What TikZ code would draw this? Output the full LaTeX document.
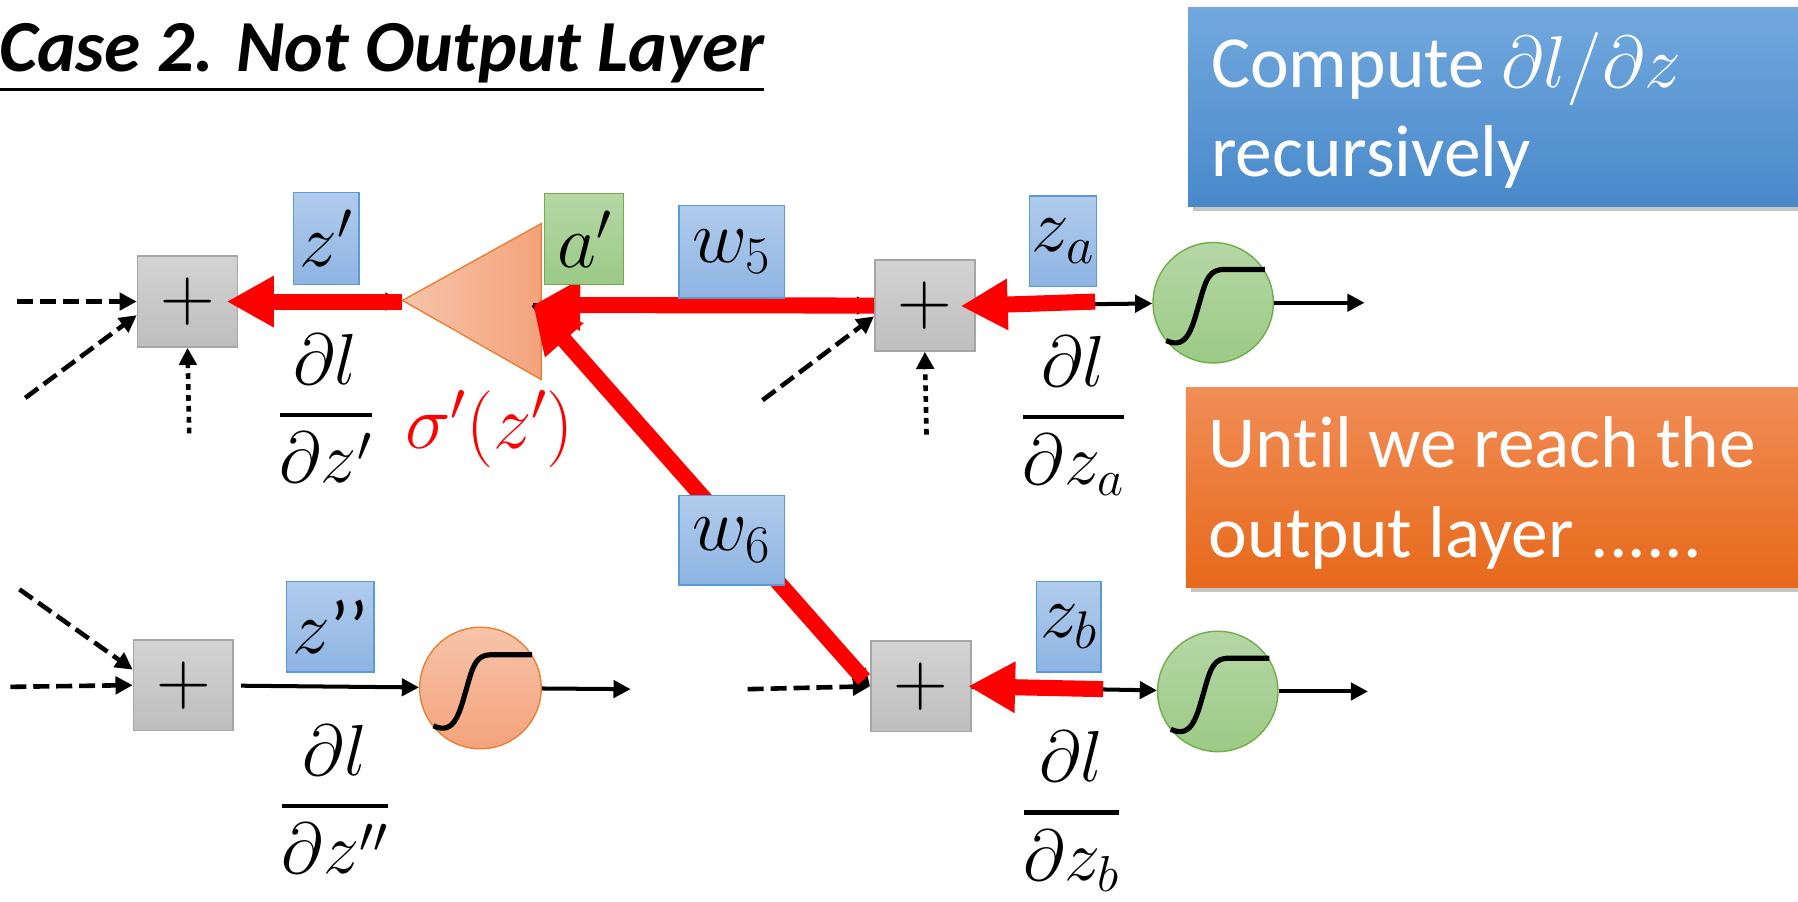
\RequirePackage{fix-cm}
\documentclass[tikz,border=0pt]{standalone}
\usepackage{amsmath}
\usepackage[no-math]{fontspec}
\setmainfont[Ligatures=NoCommon]{Carlito}
\usetikzlibrary{arrows.meta,shadows}
\definecolor{gboxT}{HTML}{D3D3D3}
\definecolor{gboxB}{HTML}{BEBEBE}
\definecolor{gboxD}{HTML}{A6A6A6}
\definecolor{blT}{HTML}{B1CCEC}
\definecolor{blB}{HTML}{8EB4E3}
\definecolor{blD}{HTML}{5B9BD5}
\definecolor{grT}{HTML}{B5D7A6}
\definecolor{grB}{HTML}{9CCA86}
\definecolor{grD}{HTML}{70AD47}
\definecolor{orT}{HTML}{F7C4AA}
\definecolor{orB}{HTML}{F4A37B}
\definecolor{orD}{HTML}{ED7D31}
\definecolor{bigBT}{HTML}{72A8DE}
\definecolor{bigBB}{HTML}{4889CA}
\definecolor{bigOT}{HTML}{F18D57}
\definecolor{bigOB}{HTML}{E7691A}
\definecolor{bpred}{HTML}{FF0000}
\newcommand\bpfrac[2]{\genfrac{}{}{4pt}{0}{#1}{#2}}
\tikzset{
  sumbox/.style={draw=gboxD, line width=1.5pt, top color=gboxT, bottom color=gboxB,
    minimum width=87pt, minimum height=79pt, inner sep=0pt, font=\fontsize{66}{70}\selectfont},
  lab/.style={line width=1.2pt, inner sep=0pt, font=\fontsize{66}{70}\selectfont},
  bluelab/.style={lab, draw=blD, top color=blT, bottom color=blB},
  greenlab/.style={lab, draw=grD, top color=grT, bottom color=grB},
  actgreen/.style={circle, draw=grD, line width=1.2pt, top color=grT, bottom color=grB, minimum size=105pt, inner sep=0pt},
  actorange/.style={circle, draw=orD, line width=1.2pt, top color=orT, bottom color=orB, minimum size=106pt, inner sep=0pt},
  fwd/.style={line width=3.5pt, -{Triangle[length=15pt,width=15pt]}},
  dsh/.style={fwd, line width=4pt, dash pattern=on 14pt off 6pt},
  dtt/.style={fwd, line width=4pt, dash pattern=on 5pt off 4.5pt},
  back/.style={draw=bpred, line width=14pt, -{Triangle[length=41pt,width=42pt]}},
  pd/.style={anchor=base, inner sep=0pt, font=\fontsize{63}{70}\selectfont},
  bigbox/.style={anchor=north west, inner sep=0pt, minimum width=545pt, minimum height=174pt,
     drop shadow={shadow xshift=4pt, shadow yshift=-4pt, opacity=0.45}},
  bigtext/.style={anchor=base west, inner sep=0pt, text=white, font=\fontsize{64}{78}\selectfont},
  sigm/.pic={\draw[line width=4.5pt] (-41,33) .. controls (-22,42) and (-18,20) .. (-12,0) .. controls (-6,-22) and (-3,-29) .. (10,-29) -- (45,-29);}
}
\begin{document}
\begin{tikzpicture}[x=1pt,y=-1pt]
\useasboundingbox (0,0) rectangle (1568,786);
\fill[white] (0,0) rectangle (1568,786);

% title
\node[anchor=base west, inner sep=0pt, font=\fontsize{64}{70}\bfseries\itshape\selectfont] (title) at (-1,62) {Case 2. Not Output Layer};
\draw[line width=2.5pt] ([yshift=-16pt]title.base west) -- ([yshift=-16pt]title.base east);

% info boxes
\node[bigbox, top color=bigBT, bottom color=bigBB] (cbox) at (1036,6) {};
\node[bigtext] (ct1) at (1056,76) {Compute $\partial l/\partial z$};
\node[bigtext] (ct2) at (1056,154) {recursively};
\node[bigbox, top color=bigOT, bottom color=bigOB] (obox) at (1034,338) {};
\node[bigtext] (ot1) at (1054,408) {Until we reach the};
\node[bigtext] (ot2) at (1054,486) {output layer ......};

% neurons
\node[sumbox] (plus1) at (163.5,263) {$+$};
\node[sumbox] (plus2) at (806.5,266.5) {$+$};
\node[sumbox] (plus3) at (160,597.5) {$+$};
\node[sumbox] (plus4) at (803,598.5) {$+$};
\node[actgreen] (circA) at (1058,264) {};
\node[actgreen] (circB) at (1062,603) {};
\node[actorange] (circO) at (419,600) {};
\pic at (circA.center) {sigm};
\pic at (circB.center) {sigm};
\pic at (circO.center) {sigm};
\path[draw=orD, line width=1.2pt, left color=orT, right color=orB] (351,262) -- (472,195) -- (472,331) -- cycle;

% free ends
\coordinate (in1a) at (15,263);
\coordinate (in1b) at (22,347);
\coordinate (in1c) at (165,378);
\coordinate (in2a) at (665,349);
\coordinate (in2c) at (808,379);
\coordinate (in3a) at (9,599);
\coordinate (in3b) at (17,514);
\coordinate (in4a) at (652,601);
\coordinate (outA) at (1190,264);
\coordinate (outB) at (1193,603);
\coordinate (outO) at (550,601);
\coordinate (triT) at (351,263);
\coordinate (triR) at (465,266);
\coordinate (zaT) at (955,263);
\coordinate (zbT) at (962,601);

% inputs
\draw[dsh] (in1a) -- (plus1.west);
\draw[dsh] (in1b) -- (plus1.195);
\draw[dtt] (in1c) -- (plus1.south);
\draw[dsh] (in2a) -- (plus2.192);
\draw[dtt] (in2c) -- (plus2.south);
\draw[dsh] (in3a) -- (plus3.west);
\draw[dsh] (in3b) -- (plus3.163);
\draw[dsh] (in4a) -- (plus4.west);

% forward connections
\draw[fwd] (plus1.east) -- (triT);
\draw[fwd] (triR) -- (plus2.west);
\draw[fwd] (triR) -- (plus4.west);
\draw[fwd] (plus2.east) -- (circA);
\draw[fwd] (circA) -- (outA);
\draw[fwd, shorten <=6pt] (plus3) -- (circO);
\draw[fwd] (circO) -- (outO);
\draw[fwd] (plus4) -- (circB);
\draw[fwd] (circB) -- (outB);

% backward (red)
\draw[back, shorten >=-10pt] (triT) -- (plus1.east);
\draw[back] (plus2.west) -- (triR);
\draw[back, shorten <=8pt] (plus4.west) -- (triR);
\draw[back, shorten >=-13pt] (zaT) -- (plus2.east);
\draw[back, shorten >=-3pt] (zbT) -- (plus4.east);

% labels
\node[bluelab, minimum width=57pt, minimum height=80pt] (lz1) at (284.5,208) {$z'$};
\node[greenlab, minimum width=69pt, minimum height=79pt] (la) at (509.5,208.5) {$a'$};
\node[bluelab, minimum width=92pt, minimum height=81pt] (lw5) at (638,219.5) {$w_5$};
\node[bluelab, minimum width=58pt, minimum height=79pt] (lza) at (927,210.5) {$z_a$};
\node[bluelab, minimum width=76pt, minimum height=79pt] (lzz) at (288,546.5) {$z$’’};
\node[bluelab, minimum width=56pt, minimum height=79pt] (lzb) at (932,546.5) {$z_b$};
\node[bluelab, minimum width=92pt, minimum height=78pt] (lw6) at (638,471) {$w_6$};

% derivatives
\node[pd] (d1) at (284,377.5) {$\bpfrac{\partial l}{\partial z'}$};
\node[pd] (da) at (936,379.5) {$\bpfrac{\partial l}{\partial z_a}$};
\node[pd] (d2) at (292,718.5) {$\bpfrac{\partial l}{\partial z''}$};
\node[pd] (db) at (934.5,724.5) {$\bpfrac{\partial l}{\partial z_b}$};
\node[anchor=base, inner sep=0pt, text=bpred, font=\fontsize{67}{70}\selectfont] (sig) at (427,391) {$\sigma'(z')$};
\end{tikzpicture}
\end{document}
